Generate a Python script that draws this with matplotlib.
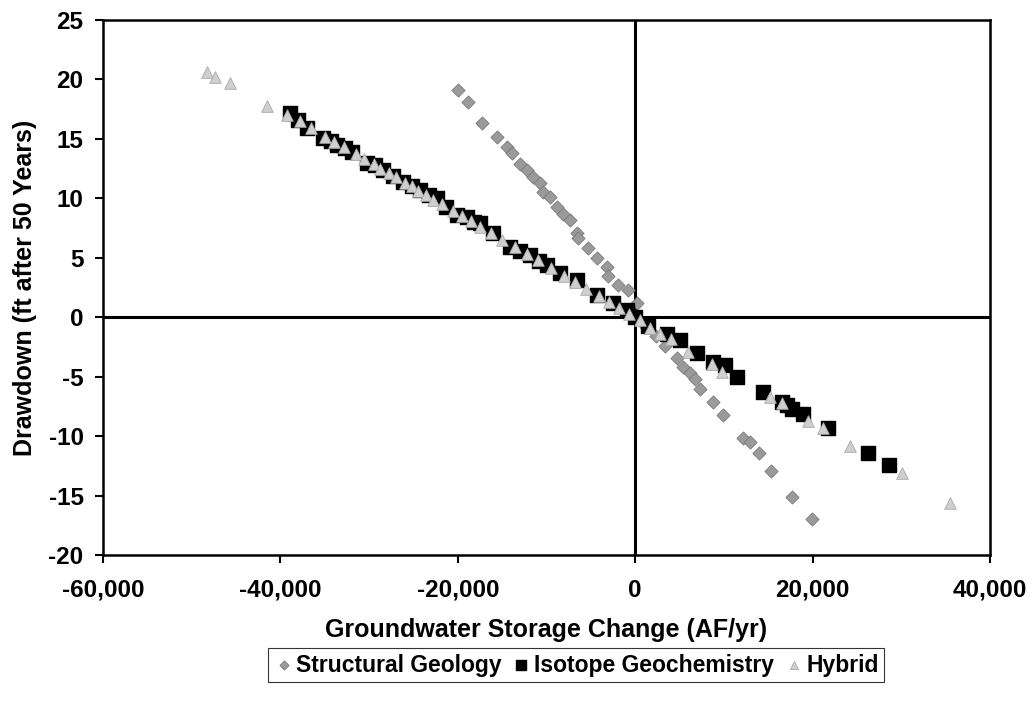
import matplotlib.pyplot as plt
import matplotlib.ticker as mticker

plt.rcParams['font.family'] = ['Liberation Sans', 'DejaVu Sans']
plt.rcParams['font.weight'] = 'bold'
plt.rcParams['axes.unicode_minus'] = False

# Structural Geology (grey diamonds)
struct_x = [-19950, -18800, -17240, -15550, -14430, -13860, -12960, -12170, -11500, -10710,
            -10370, -9580, -8790, -8110, -7330, -6540, -6420, -5300, -4280, -3160,
            -3040, -1920, -790, 230, 1200, 2300, 3400, 4730, 5410, 6200,
            6760, 7330, 8790, 9920, 12170, 12960, 13970, 15330, 17700, 19950]
struct_y = [19.1, 18.1, 16.3, 15.2, 14.3, 13.8, 12.9, 12.4, 11.8, 11.3,
            10.5, 10.1, 9.3, 8.7, 8.2, 7.1, 6.7, 5.8, 5.0, 4.2,
            3.5, 2.7, 2.3, 1.2, -0.8, -1.6, -2.4, -3.4, -4.2, -4.7,
            -5.2, -6.0, -7.1, -8.2, -10.2, -10.5, -11.4, -12.9, -15.1, -17.0]

# Isotope Geochemistry (black squares)
iso_x = [-38880, -38000, -36970, -35160, -34300, -33580, -32700, -31890, -30200, -29300,
         -28400, -27300, -26150, -25200, -24230, -23300, -22310, -21300, -20060, -19000,
         -18200, -17470, -16000, -14090, -13000, -11830, -10800, -9920, -8450, -6540,
         -4280, -2480, -900, 0, 1500, 3600, 5070, 6990, 8790, 10140,
         11500, 14430, 16560, 17130, 17700, 18930, 21750, 26260, 28620]
iso_y = [17.2, 16.6, 15.9, 15.1, 14.8, 14.5, 14.2, 13.9, 13.0, 12.8,
         12.4, 11.9, 11.4, 11.0, 10.7, 10.3, 10.0, 9.3, 8.6, 8.4,
         8.0, 7.9, 7.1, 5.9, 5.6, 5.2, 4.7, 4.4, 3.7, 3.1,
         1.9, 1.2, 0.6, 0.0, -0.7, -1.4, -1.9, -3.0, -3.8, -4.0,
         -5.0, -6.3, -7.1, -7.4, -7.7, -8.1, -9.3, -11.4, -12.4]

# Hybrid (light grey triangles)
hyb_x = [-48240, -47340, -45640, -41470, -39220, -37800, -36500, -35000, -33900, -32800,
         -31500, -30600, -29500, -28800, -27800, -27000, -26000, -25200, -24500, -23600,
         -22800, -21800, -20500, -19500, -18500, -17500, -16200, -15000, -13600, -12200,
         -11000, -9500, -8000, -6800, -5500, -4100, -3000, -1800, -700, 500,
         1690, 2820, 4000, 5970, 8680, 9800, 15210, 16500, 19500, 21190,
         24230, 30090, 35500]
hyb_y = [20.6, 20.2, 19.7, 17.8, 17.0, 16.5, 15.9, 15.2, 14.7, 14.3,
         13.7, 13.3, 12.9, 12.5, 12.1, 11.8, 11.3, 11.0, 10.6, 10.3,
         9.9, 9.5, 8.9, 8.5, 8.1, 7.6, 7.1, 6.5, 5.9, 5.3,
         4.8, 4.1, 3.5, 3.0, 2.4, 1.8, 1.3, 0.8, 0.3, -0.2,
         -0.9, -1.4, -1.8, -2.9, -3.9, -4.6, -6.7, -7.2, -8.7, -9.3,
         -10.8, -13.1, -15.6]

fig = plt.figure(figsize=(10.36, 7.02), dpi=100)
ax = fig.add_axes([0.0994, 0.2094, 0.8562, 0.7621])

ax.axhline(0, color='black', lw=2.2, zorder=1)
ax.axvline(0, color='black', lw=2.2, zorder=1)

ax.scatter(struct_x, struct_y, marker='D', s=45, color='#9a9a9a', edgecolors='#7a7a7a',
           linewidths=0.6, zorder=3, label='Structural Geology')
ax.scatter(iso_x, iso_y, marker='s', s=90, color='black', edgecolors='black',
           zorder=4, label='Isotope Geochemistry')
ax.scatter(hyb_x, hyb_y, marker='^', s=70, color='#cfcfcf', edgecolors='#a8a8a8',
           linewidths=0.6, zorder=5, label='Hybrid')

ax.set_xlim(-60000, 40000)
ax.set_ylim(-20, 25)
ax.set_xticks([-60000, -40000, -20000, 0, 20000, 40000])
ax.set_yticks(range(-20, 26, 5))
ax.xaxis.set_major_formatter(mticker.StrMethodFormatter('{x:,.0f}'))

for s in ax.spines.values():
    s.set_linewidth(1.8)
ax.tick_params(direction='out', length=6, width=1.5, labelsize=17.5)
ax.tick_params(axis='x', pad=11)
ax.tick_params(axis='y', pad=8)

ax.set_xlabel('Groundwater Storage Change (AF/yr)', fontsize=18, fontweight='bold', labelpad=12)
ax.set_ylabel('Drawdown (ft after 50 Years)', fontsize=18, fontweight='bold', labelpad=8)

leg = fig.legend(loc='center', bbox_to_anchor=(0.556, 0.0527), ncol=3, fontsize=16.5,
                 frameon=True, fancybox=False, edgecolor='black', handletextpad=0.1,
                 columnspacing=0.4, borderpad=0.25, markerscale=0.7, handlelength=0.9,
                 borderaxespad=0)
leg.get_frame().set_linewidth(0.8)

fig.savefig('out.png', dpi=100)
